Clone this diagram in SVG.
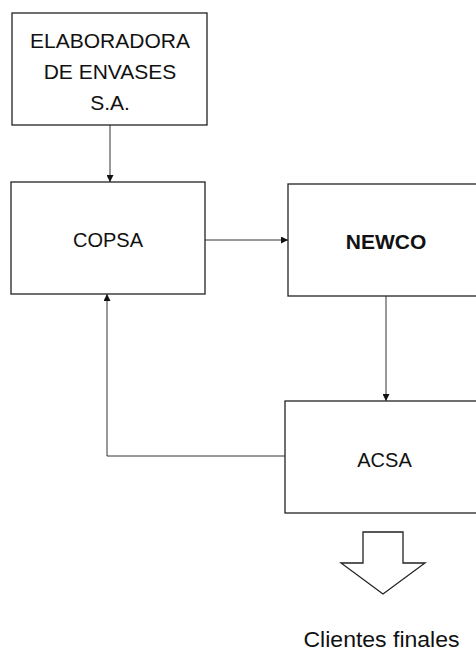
<svg xmlns="http://www.w3.org/2000/svg" width="476" height="653" viewBox="0 0 476 653">
<style>
.box{fill:#fff;stroke:#222;stroke-width:1.3}
.t{font-family:"Liberation Sans",Arial,sans-serif;fill:#111;text-anchor:middle}
.c{fill:none;stroke:#333;stroke-width:1}
</style>
<defs>
<marker id="ah" viewBox="0 0 10 10" refX="10" refY="5" markerWidth="7" markerHeight="7" markerUnits="userSpaceOnUse" orient="auto">
<path d="M0,0 L10,5 L0,10 z" fill="#111"/>
</marker>
</defs>
<rect width="476" height="653" fill="#fff"/>
<g id="connectors">
<line class="c" x1="110" y1="125" x2="110" y2="182" marker-end="url(#ah)"/>
<line class="c" x1="205" y1="240" x2="288" y2="240" marker-end="url(#ah)"/>
<line class="c" x1="386" y1="296" x2="386" y2="401" marker-end="url(#ah)"/>
<polyline class="c" points="285,456 107,456 107,294" marker-end="url(#ah)"/>
</g>
<g id="elaboradora">
<rect class="box" x="12" y="13" width="195" height="112"/>
<text class="t" font-size="21"><tspan x="110" y="48">ELABORADORA</tspan><tspan x="110" y="79">DE ENVASES</tspan><tspan x="110" y="110">S.A.</tspan></text>
</g>
<g id="copsa">
<rect class="box" x="11" y="182" width="194" height="112"/>
<text class="t" x="108" y="247" font-size="20">COPSA</text>
</g>
<g id="newco">
<rect class="box" x="288" y="184" width="196" height="112"/>
<text class="t" x="386" y="249" font-size="21" font-weight="bold">NEWCO</text>
</g>
<g id="acsa">
<rect class="box" x="285" y="401" width="199" height="112"/>
<text class="t" x="384.5" y="467" font-size="20">ACSA</text>
</g>
<g id="clientes">
<path d="M363,532 L403,532 L403,563 L425,563 L383,594 L341,563 L363,563 Z" fill="#fff" stroke="#222" stroke-width="1.3"/>
<text class="t" x="381.5" y="647" font-size="22" textLength="156" lengthAdjust="spacingAndGlyphs">Clientes finales</text>
</g>
</svg>
